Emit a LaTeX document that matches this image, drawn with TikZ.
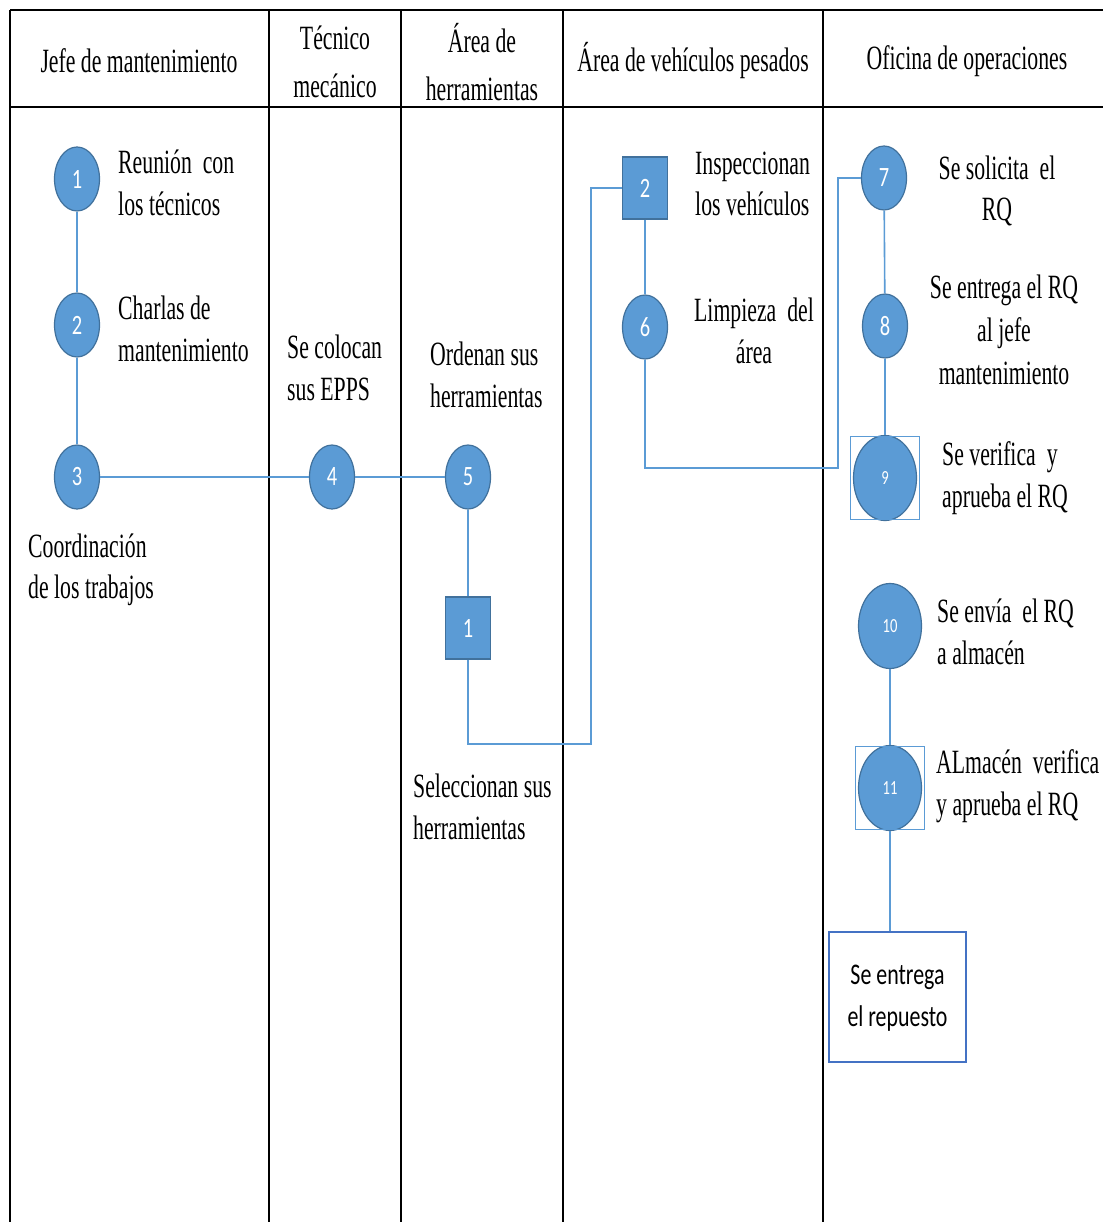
\documentclass[tikz,border=0pt]{standalone}
\usepackage{fontspec}
\newfontfamily\lanefont{Liberation Serif}[FakeStretch=0.64]
\newfontfamily\boxfont{Carlito}[FakeStretch=0.73]
\usetikzlibrary{shapes.geometric}

\definecolor{stepblue}{HTML}{5B9BD5}
\definecolor{stepedge}{HTML}{41719C}
\definecolor{linkblue}{HTML}{5B9BD5}
\definecolor{framedblue}{HTML}{4472C4}

\tikzset{
  lbl/.style={font=\lanefont\fontsize{34}{41.5}\selectfont, inner sep=0pt, align=left, anchor=west},
  lblc/.style={lbl, align=center, anchor=center},
  headlbl/.style={lblc, font=\lanefont\fontsize{34}{48}\selectfont},
  stepcirc/.style={ellipse, fill=stepblue, draw=stepedge, line width=1.2pt,
    minimum width=45pt, minimum height=64pt, inner sep=0pt, text=white,
    font=\boxfont\fontsize{28}{30}\selectfont},
  bigcirc/.style={stepcirc, minimum width=63pt, minimum height=85pt,
    font=\boxfont\fontsize{20}{24}\selectfont},
  stepsq/.style={rectangle, fill=stepblue, draw=stepedge, line width=1.2pt,
    minimum width=45pt, minimum height=62pt, inner sep=0pt, text=white,
    font=\boxfont\fontsize{28}{30}\selectfont},
  selbox/.style={draw=stepblue, line width=1pt},
  endbox/.style={rectangle, draw=framedblue, line width=1.6pt, minimum width=137pt,
    minimum height=130pt, inner sep=0pt, align=center,
    font=\boxfont\fontsize{30}{42}\selectfont},
  link/.style={draw=linkblue, line width=1.6pt},
  lane/.style={draw=black, line width=2.4pt}
}

\begin{document}
\begin{tikzpicture}[x=1pt, y=-1pt]
\useasboundingbox (0,0) rectangle (1103,1222);

% swimlane frame
\draw[lane] (10,10) -- (1103,10);
\draw[lane] (10,107) -- (1103,107);
\foreach \xl in {10,269,401,563,823}
  \draw[lane] (\xl,10) -- (\xl,1222);

% lane headings
\node[headlbl] (h1) at (139,61) {Jefe de mantenimiento};
\node[headlbl] (h2) at (335,62) {Técnico\\mecánico};
\node[headlbl] (h3) at (482,62) {Área de\\herramientas};
\node[headlbl] (h4) at (693,61) {Área de vehículos pesados};
\node[headlbl] (h5) at (967,61) {Oficina de operaciones};

% steps
\node[stepcirc] (c1) at (77,179) {1};
\node[stepcirc] (c2) at (77,325) {2};
\node[stepcirc] (c3) at (77,477) {3};
\node[stepcirc] (c4) at (332,477) {4};
\node[stepcirc] (c5) at (468,477) {5};
\node[stepsq]   (s1) at (468,628) {1};
\node[stepsq]   (s2) at (645,188) {2};
\node[stepcirc] (c6) at (645,327) {6};
\node[stepcirc] (c7) at (884,178) {7};
\node[stepcirc] (c8) at (885,326) {8};
\node[bigcirc]  (c9) at (885,478) {9};
\node[bigcirc]  (c10) at (890,626) {10};
\node[bigcirc]  (c11) at (890,788) {11};
\node[endbox]   (fin) at (897.5,997) {\raisebox{-4pt}{\begin{tabular}{@{}c@{}}Se entrega\\el repuesto\end{tabular}}};

% frames around steps 9 and 11
\draw[selbox] ([shift={(-2pt,-2pt)}]c9.west |- c9.north) rectangle ([shift={(2pt,2pt)}]c9.east |- c9.south);
\draw[selbox] ([shift={(-2pt,-2pt)}]c11.west |- c11.north) rectangle ([shift={(2pt,2pt)}]c11.east |- c11.south);

% step descriptions
\node[lbl] (t1) at (118,183) {Reunión\ \ con\\los técnicos};
\node[lbl] (t2) at (118,329) {Charlas de\\mantenimiento};
\node[lbl] (t3) at (28,570) {Coordinación\\de los trabajos};
\node[lbl] (t4) at (287,368) {Se colocan\\sus EPPS};
\node[lbl] (t5) at (430,375) {Ordenan sus\\herramientas};
\node[lbl] (t6) at (413,807) {Seleccionan sus\\herramientas};
\node[lbl] (t7) at (695,184) {Inspeccionan\\los vehículos};
\node[lblc] (t8) at (754,331) {Limpieza\ \ del\\área};
\node[lblc] (t9) at (997,191) {Se solicita\ \ el\\RQ};
\node[lblc, font=\lanefont\fontsize{34}{43}\selectfont] (t10) at (1004,330) {Se entrega el RQ\\al jefe\\mantenimiento};
\node[lbl] (t11) at (942,478) {Se verifica\ \ y\\aprueba el RQ};
\node[lbl] (t12) at (937,632) {Se envía\ \ el RQ\\a almacén};
\node[lbl] (t13) at (936,786) {ALmacén\ \ verifica\\y aprueba el RQ};

% connectors
\coordinate (k1) at (591,744);
\coordinate (k2) at (838,468);
\draw[link] (c1) -- (c2);
\draw[link] (c2) -- (c3);
\draw[link] (c3) -- (c4);
\draw[link] (c4) -- (c5);
\draw[link] (c5) -- (s1);
\draw[link] (s1.south) |- (k1) |- (s2.west);
\draw[link] (s2) -- (c6);
\draw[link] (c6.south) |- (k2) |- (c7.west);
\draw[link] (c7) -- (c8);
\draw[link] (c8) -- (c9);
\draw[link] (c10) -- (c11);
\draw[link] (c11.south) -- (c11.south |- fin.north);
\end{tikzpicture}
\end{document}
